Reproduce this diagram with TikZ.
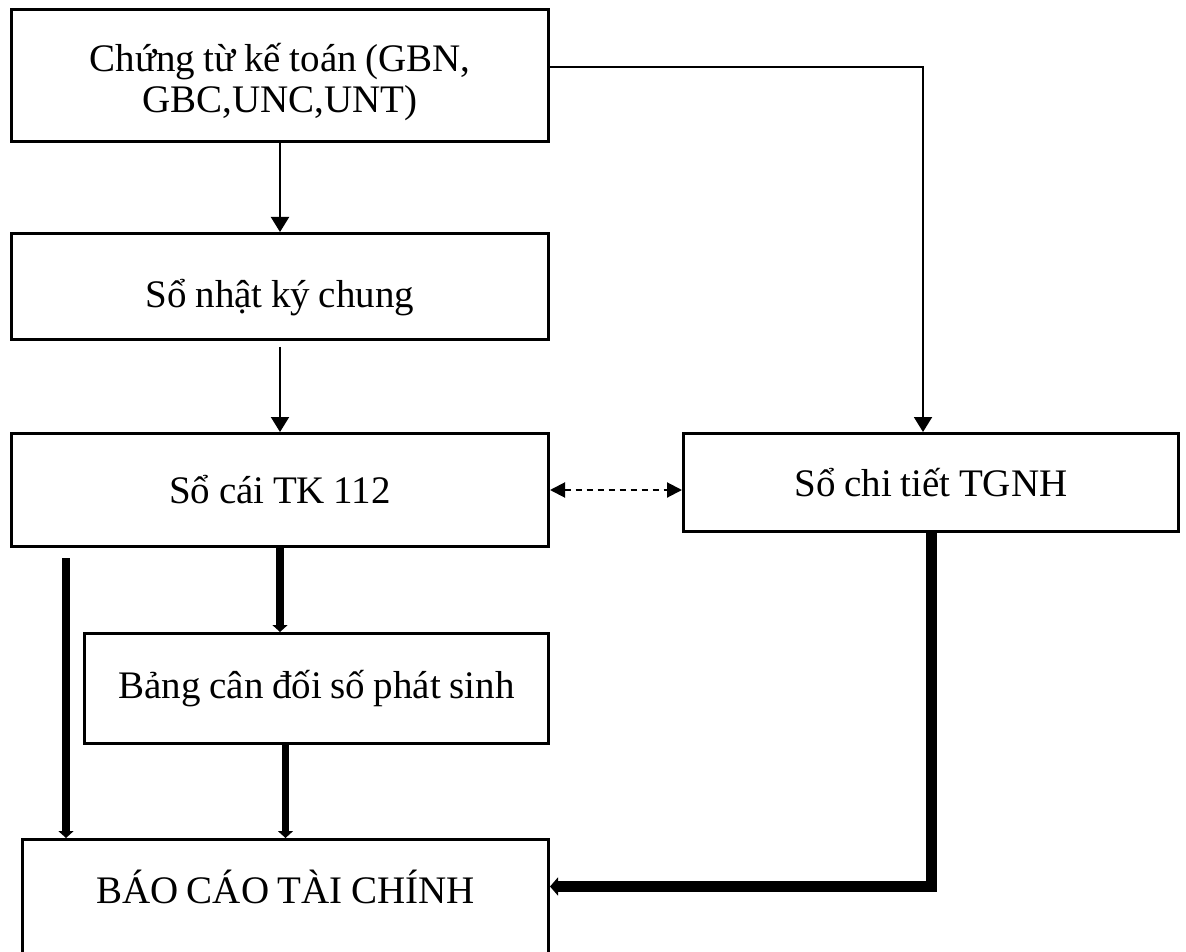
\documentclass[tikz,border=0pt]{standalone}
\usepackage{fontspec}
\setmainfont{Liberation Serif}
\usepackage{tikz}
\usetikzlibrary{arrows.meta,positioning,calc}

\begin{document}
\begin{tikzpicture}[
 >={Triangle[width=9pt,length=7.5pt]}, font=\fontsize{19.5}{20.5}\selectfont,
 box/.style={draw,line width=1.5pt,text width=260pt,minimum width=268.5pt,align=center,inner sep=0pt,
  execute at begin node={\spaceskip=.22em\relax}},
 link/.style={->,line width=1pt},
 fat/.style={-{Triangle[width=7.5pt,length=3.5pt]},line width=3.8pt},
 fatter/.style={-{Triangle[width=9pt,length=4pt]},line width=5.5pt}
]
\useasboundingbox (0,0) rectangle (593pt,-475.5pt);
\node[box,minimum height=66pt,text height=19.5pt,text depth=23pt,anchor=north west] (chungtu) at (5pt,-4pt)
 {Chứng từ kế toán (GBN,\\GBC,UNC,UNT)};
\node[box,minimum height=53pt,text height=22pt,text depth=1.3pt,below=44.5pt of chungtu] (nhatky) {Sổ nhật ký chung};
\node[box,minimum height=56.5pt,below=45.5pt of nhatky] (socai) {Sổ cái TK 112};
\node[box,minimum height=49pt,text width=240pt,minimum width=247.5pt,
 right=66pt of socai.north east,anchor=north west] (chitiet) {Sổ chi tiết TGNH};
\node[box,minimum height=55pt,text width=225pt,minimum width=232pt,
 below=42pt of socai.south east,anchor=north east] (candoi) {Bảng cân đối số phát sinh};
\node[box,text width=255pt,minimum width=263pt,text height=32pt,text depth=34pt,
 below=46.5pt of candoi.south east,anchor=north east] (baocao) {BÁO CÁO TÀI CHÍNH};
% thin flows
\draw[link] (chungtu) -- (nhatky);
\draw[link,shorten <=3pt] (nhatky) -- (socai);
\draw[link] ([yshift=4pt]chungtu.east) -| ([xshift=-4pt]chitiet.north);
\draw[{Triangle[width=7.5pt,length=7.5pt]}-{Triangle[width=7.5pt,length=7.5pt]},
 dash pattern=on 3pt off 2.5pt,line width=1pt] (socai.east) -- (socai.east -| chitiet.west);
% thick flows to the report
\draw[fat] ([xshift=28pt,yshift=-5pt]socai.south west) -- ([xshift=28pt]socai.south west |- baocao.north);
\draw[fat] (socai.south) -- (socai.south |- candoi.north);
\draw[fat] (baocao.north |- candoi.south) -- (baocao.north);
\draw[fatter] (chitiet.south) |- ([yshift=9.5pt]baocao.east);
\end{tikzpicture}
\end{document}
